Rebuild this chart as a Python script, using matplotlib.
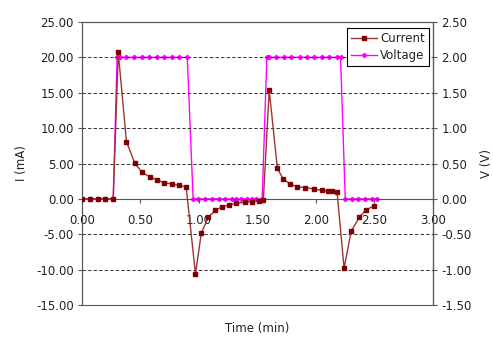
import matplotlib
matplotlib.use("Agg")
import matplotlib.pyplot as plt
from matplotlib.patches import Rectangle

plt.rcParams["font.family"] = ["DejaVu Sans"]
plt.rcParams["font.size"] = 8.5

# current series (time in min, current in mA)
t_current = [0.0, 0.067, 0.133, 0.2, 0.267, 0.31, 0.38, 0.45, 0.51, 0.58,
             0.64, 0.70, 0.77, 0.83, 0.89, 0.97, 1.02, 1.08, 1.14, 1.20,
             1.26, 1.32, 1.39, 1.45, 1.51, 1.55, 1.60, 1.67, 1.72, 1.78,
             1.84, 1.91, 1.98, 2.05, 2.10, 2.14, 2.18, 2.24, 2.30, 2.37,
             2.43, 2.50]
current = [0.0, 0.0, 0.0, 0.0, 0.0, 20.7, 8.1, 5.1, 3.8, 3.1,
           2.7, 2.3, 2.1, 1.9, 1.7, -10.6, -4.8, -2.6, -1.6, -1.1,
           -0.85, -0.6, -0.5, -0.4, -0.3, -0.2, 15.4, 4.3, 2.8, 2.1,
           1.7, 1.6, 1.4, 1.2, 1.1, 1.1, 1.0, -9.8, -4.6, -2.6,
           -1.5, -1.0]

# voltage series (time in min, voltage in V)
t_voltage = [0.0, 0.067, 0.133, 0.2, 0.267, 0.30, 0.325, 0.38, 0.447, 0.51,
             0.57, 0.64, 0.70, 0.77, 0.83, 0.90, 0.95, 0.99, 1.05, 1.11,
             1.17, 1.22, 1.28, 1.32, 1.36, 1.41, 1.45, 1.49, 1.54, 1.58,
             1.60, 1.66, 1.73, 1.79, 1.86, 1.92, 1.985, 2.05, 2.11, 2.18,
             2.21, 2.25, 2.31, 2.36, 2.42, 2.48, 2.52]
voltage = [0.0, 0.0, 0.0, 0.0, 0.0, 2.0, 2.0, 2.0, 2.0, 2.0,
           2.0, 2.0, 2.0, 2.0, 2.0, 2.0, 0.0, 0.0, 0.0, 0.0,
           0.0, 0.0, 0.0, 0.0, 0.0, 0.0, 0.0, 0.0, 0.0, 2.0,
           2.0, 2.0, 2.0, 2.0, 2.0, 2.0, 2.0, 2.0, 2.0, 2.0,
           2.0, 0.0, 0.0, 0.0, 0.0, 0.0, 0.0]

x_ticks = [0.0, 0.5, 1.0, 1.5, 2.0, 2.5, 3.0]
i_ticks = [-15, -10, -5, 0, 5, 10, 15, 20, 25]
v_ticks = [-1.5, -1.0, -0.5, 0.0, 0.5, 1.0, 1.5, 2.0, 2.5]

text_col = "#222222"
axis_col = "#555555"

fig = plt.figure(figsize=(4.93, 3.45), dpi=100)
ax = fig.add_axes([0.1663, 0.1159, 0.7120, 0.8203])
ax2 = ax.twinx()

# dashed grid at the current ticks (not at 0 or the borders)
for v in i_ticks[1:-1]:
    if v != 0:
        ax.axhline(v, color="#333333", lw=0.7, ls=(0, (3.5, 2.2)), zorder=1)

l1, = ax.plot(t_current, current, color="#9b3535", lw=1.0, marker="s",
              ms=2.6, mfc="#800000", mec="#800000", zorder=4, label="Current")
l2, = ax2.plot(t_voltage, voltage, color="#ff00ff", lw=1.0, marker="D",
               ms=2.2, mfc="#ff00ff", mec="#ff00ff", zorder=3, label="Voltage")

ax.set_xlim(0, 3)
ax.set_ylim(-15, 25)
ax2.set_ylim(-1.5, 2.5)
ax.set_xticks(x_ticks)
ax.set_xticklabels(["%.2f" % v for v in x_ticks])
ax.set_yticks(i_ticks)
ax.set_yticklabels(["%.2f" % v for v in i_ticks])
ax2.set_yticks(v_ticks)
ax2.set_yticklabels(["%.2f" % v for v in v_ticks])

# x axis crosses at zero, plot area framed by a box
ax.spines["bottom"].set_position(("data", 0))
ax.spines["bottom"].set_color(axis_col)
for sp in ["top", "left", "right"]:
    ax.spines[sp].set_color(axis_col)
for sp in ["top", "left", "bottom"]:
    ax2.spines[sp].set_visible(False)
ax2.spines["right"].set_color(axis_col)
ax.add_patch(Rectangle((0, 0), 1, 1, transform=ax.transAxes, fill=False,
                       ec=axis_col, lw=0.8, zorder=0, clip_on=False))

ax.tick_params(axis="x", direction="out", length=3, width=0.8, pad=8,
               colors=axis_col, labelcolor=text_col)
ax.tick_params(axis="y", direction="out", length=3, width=0.8, pad=3,
               colors=axis_col, labelcolor=text_col)
ax2.tick_params(axis="y", direction="out", length=3, width=0.8, pad=3,
                colors=axis_col, labelcolor=text_col)

ax.set_xlabel("Time (min)", color=text_col)
ax.xaxis.set_label_coords(0.5, -0.06)
ax.set_ylabel("I (mA)", color=text_col, labelpad=6)
ax2.set_ylabel("V (V)", color=text_col, labelpad=6)

ax2.set_zorder(ax.get_zorder() + 1)
ax2.patch.set_visible(False)
ax.set_zorder(ax2.get_zorder() + 1)
ax.patch.set_visible(False)

leg = ax.legend(handles=[l1, l2], loc="upper right",
                bbox_to_anchor=(0.989, 0.979), fancybox=False, framealpha=1,
                edgecolor="#000000", borderpad=0.35, handlelength=2.2,
                handletextpad=0.3, labelspacing=0.35, borderaxespad=0)
leg.get_frame().set_linewidth(0.8)
for t in leg.get_texts():
    t.set_color(text_col)

fig.savefig("out.png", dpi=100)
